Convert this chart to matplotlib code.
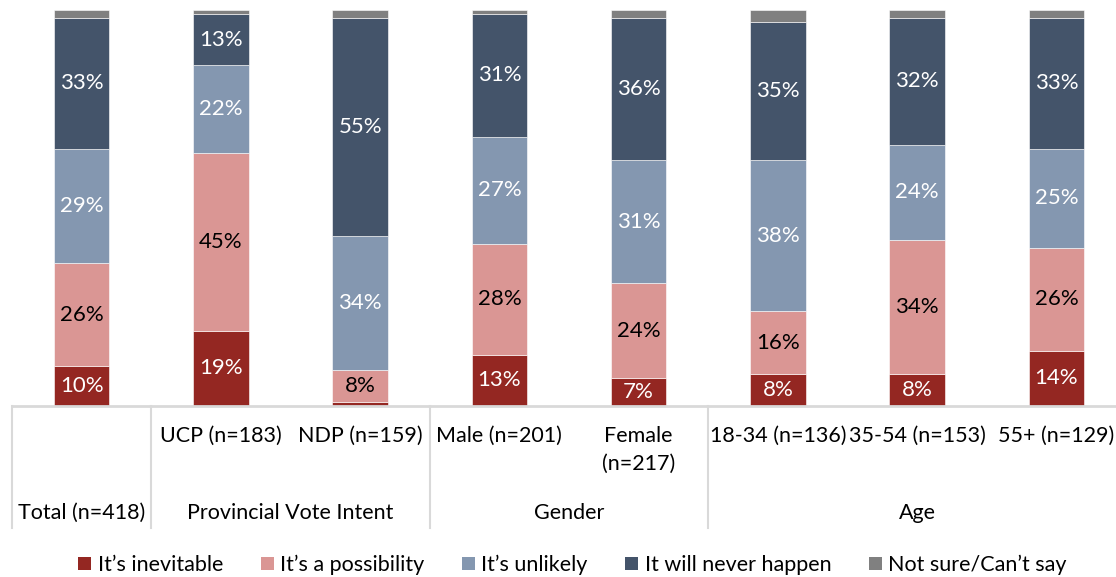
import matplotlib.pyplot as plt
import matplotlib.transforms as mtransforms
from matplotlib.patches import Patch

plt.rcParams["font.family"] = ["Lato", "DejaVu Sans"]

# sub-groups along the x axis and the group each one belongs to
subgroups = ["", "UCP (n=183)", "NDP (n=159)", "Male (n=201)", "Female\n(n=217)",
             "18-34 (n=136)", "35-54 (n=153)", "55+ (n=129)"]
groups = [("Total (n=418)", 0, 0), ("Provincial Vote Intent", 1, 2),
          ("Gender", 3, 4), ("Age", 5, 7)]

series_names = ["It’s inevitable", "It’s a possibility", "It’s unlikely",
                "It will never happen", "Not sure/Can’t say"]
inevitable = [10, 19, 1, 13, 7, 8, 8, 14]
possibility = [26, 45, 8, 28, 24, 16, 34, 26]
unlikely = [29, 22, 34, 27, 31, 38, 24, 25]
never = [33, 13, 55, 31, 36, 35, 32, 33]
not_sure = [2, 1, 2, 1, 2, 3, 2, 2]

colors = ["#942722", "#da9694", "#8497b0", "#44546a", "#808080"]
text_colors = ["white", "black", "white", "white", None]

FS = 15.5
W, H = 1116, 577
fig = plt.figure(figsize=(W / 100, H / 100), dpi=100)
# axes runs a little past the right edge of the figure
ax = fig.add_axes([12 / W, (H - 406) / H, 1114 / W, 396 / H])

x = list(range(len(subgroups)))
bottom = [0] * len(x)
for vals, col, name, tc in zip([inevitable, possibility, unlikely, never, not_sure],
                               colors, series_names, text_colors):
    ax.bar(x, vals, width=0.4, bottom=bottom, color=col, edgecolor="white",
           linewidth=0.4, label=name)
    if tc is not None:
        for xi, v, b in zip(x, vals, bottom):
            if v >= 3:
                ax.text(xi, b + v / 2, f"{v}%", ha="center", va="center",
                        color=tc, fontsize=FS + 0.5)
    bottom = [b + v for b, v in zip(bottom, vals)]

ax.set_xlim(-0.5, 7.5)
ax.set_ylim(0, 100)
ax.axis("off")

# category table under the bars
trans = mtransforms.blended_transform_factory(ax.transData, fig.transFigure)


def fy(py):
    return 1 - py / H


ax.plot([-0.5, 7.5], [fy(406), fy(406)], color="#d9d9d9", lw=2,
        transform=trans, clip_on=False)
for sep in [-0.5, 0.5, 2.5, 4.5, 7.5]:
    ax.plot([sep, sep], [fy(406), fy(528)], color="#d9d9d9", lw=1.5,
            transform=trans, clip_on=False)

for xi, lab in zip(x, subgroups):
    ax.text(xi, fy(426), lab, ha="center", va="top", fontsize=FS,
            linespacing=1.5, transform=trans)

for lab, start, end in groups:
    ax.text((start + end) / 2, fy(513), lab, ha="center", va="center",
            fontsize=FS, transform=trans)

handles = [Patch(facecolor=c, edgecolor="none") for c in colors]
fig.legend(handles, series_names, loc="center", bbox_to_anchor=(0.513, fy(565)),
           ncol=5, frameon=False, fontsize=FS, handlelength=0.6,
           handleheight=0.6, handletextpad=0.3, columnspacing=1.75)

fig.savefig("out.png", dpi=100)
